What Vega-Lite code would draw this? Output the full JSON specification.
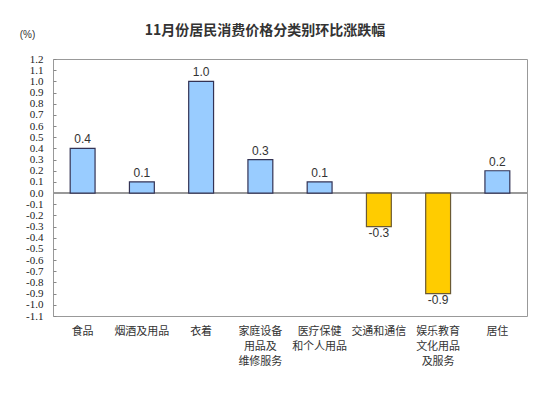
{
  "$schema": "https://vega.github.io/schema/vega-lite/v6.json",
  "width": 474,
  "height": 257,
  "autosize": {"type": "none"},
  "padding": {"left": 53, "top": 59, "right": 23, "bottom": 79},
  "background": "white",
  "title": {
    "text": "11月份居民消费价格分类别环比涨跌幅",
    "font": "Noto Sans CJK SC",
    "fontSize": 14,
    "fontWeight": "bold",
    "color": "#333333",
    "anchor": "middle",
    "dx": -25,
    "offset": -9
  },
  "data": {
    "values": [
      {"category": "食品", "value": 0.4},
      {"category": "烟酒及用品", "value": 0.1},
      {"category": "衣着", "value": 1.0},
      {"category": "家庭设备|用品及|维修服务", "value": 0.3},
      {"category": "医疗保健|和个人用品", "value": 0.1},
      {"category": "交通和通信", "value": -0.3},
      {"category": "娱乐教育|文化用品|及服务", "value": -0.9},
      {"category": "居住", "value": 0.2}
    ]
  },
  "encoding": {
    "x": {
      "field": "category",
      "type": "nominal",
      "sort": null,
      "scale": {"paddingInner": 0.58, "paddingOuter": 0.29},
      "axis": {
        "title": null,
        "domain": false,
        "ticks": false,
        "labelAngle": 0,
        "labelExpr": "split(datum.label, '|')",
        "labelFont": "Noto Sans CJK SC",
        "labelFontSize": 11,
        "labelColor": "#333333",
        "labelLineHeight": 15,
        "labelPadding": 9,
        "labelBaseline": "top"
      }
    },
    "y": {
      "field": "value",
      "type": "quantitative",
      "scale": {"domain": [-1.1, 1.2], "nice": false, "zero": false},
      "axis": {
        "title": "(%)",
        "titleAngle": 0,
        "titleX": -26,
        "titleY": -25,
        "titleBaseline": "middle",
        "titleFont": "Liberation Sans",
        "titleFontSize": 10,
        "titleFontWeight": "normal",
        "titleColor": "#333333",
        "titleAlign": "center",
        "values": [-1.1, -1.0, -0.9, -0.8, -0.7, -0.6, -0.5, -0.4, -0.3, -0.2, -0.1, 0, 0.1, 0.2, 0.3, 0.4, 0.5, 0.6, 0.7, 0.8, 0.9, 1.0, 1.1, 1.2],
        "format": ".1f",
        "grid": false,
        "domain": false,
        "tickSize": -3,
        "tickColor": "#888888",
        "labelFont": "Liberation Serif",
        "labelFontSize": 11,
        "labelColor": "#222222",
        "labelPadding": 13,
        "labelOverlap": false
      }
    }
  },
  "layer": [
    {
      "mark": {"type": "rule", "color": "#999999", "strokeWidth": 1},
      "encoding": {"y": {"datum": 0}, "x": null}
    },
    {
      "mark": {"type": "bar", "strokeWidth": 1.2},
      "encoding": {
        "fill": {"condition": {"test": "datum.value < 0", "value": "#FFCC00"}, "value": "#99CCFF"},
        "stroke": {"condition": {"test": "datum.value < 0", "value": "#6b5a33"}, "value": "#333355"}
      }
    },
    {
      "transform": [{"filter": "datum.value >= 0"}],
      "mark": {"type": "text", "baseline": "bottom", "dy": -2, "font": "Liberation Sans", "fontSize": 12, "color": "#333333"},
      "encoding": {"text": {"field": "value", "type": "quantitative", "format": ".1f"}}
    },
    {
      "transform": [{"filter": "datum.value < 0"}],
      "mark": {"type": "text", "baseline": "top", "dy": 1, "font": "Liberation Sans", "fontSize": 12, "color": "#333333"},
      "encoding": {"text": {"field": "value", "type": "quantitative", "format": ".1f"}}
    }
  ],
  "config": {
    "view": {"stroke": "#999999", "strokeWidth": 1},
    "locale": {
      "number": {"decimal": ".", "thousands": ",", "grouping": [3], "currency": ["", ""], "minus": "-"}
    }
  }
}
